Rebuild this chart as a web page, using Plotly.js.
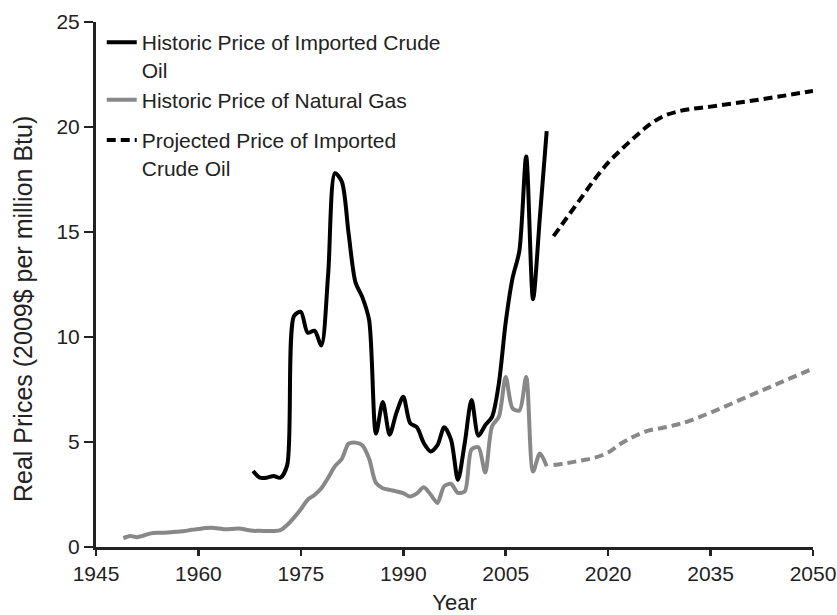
<!DOCTYPE html>
<html>
<head>
<meta charset="utf-8">
<script src="https://cdn.plot.ly/plotly-3.0.1.min.js"></script>
<style>html,body{margin:0;padding:0;background:#fff;}#chart{width:837px;height:615px;}</style>
</head>
<body>
<div id="chart"></div>
<script>
// Historic imported crude oil price (2009$ per million Btu)
const oilYears = [1968,1969,1970,1971,1972,1973,1974,1975,1976,1977,1978,1979,1980,1981,1982,1983,1984,1985,1986,1987,1988,1989,1990,1991,1992,1993,1994,1995,1996,1997,1998,1999,2000,2001,2002,2003,2004,2005,2006,2007,2008,2009,2010,2011];
const oilPrice = [3.62,3.30,3.30,3.38,3.30,3.90,11.0,11.2,10.2,10.3,9.6,13.0,17.8,17.4,14.9,12.6,11.9,10.8,5.4,6.9,5.35,6.4,7.15,5.9,5.7,4.95,4.55,4.85,5.7,5.1,3.2,4.95,7.0,5.3,5.8,6.2,7.8,10.7,12.8,14.1,18.6,11.8,15.7,19.8];

// Historic natural gas price
const gasYears = [1949,1950,1951,1952,1953,1954,1955,1956,1957,1958,1959,1960,1961,1962,1963,1964,1965,1966,1967,1968,1969,1970,1971,1972,1973,1974,1975,1976,1977,1978,1979,1980,1981,1982,1983,1984,1985,1986,1987,1988,1989,1990,1991,1992,1993,1994,1995,1996,1997,1998,1999,2000,2001,2002,2003,2004,2005,2006,2007,2008,2009,2010,2011];
const gasPrice = [0.42,0.52,0.47,0.55,0.65,0.68,0.68,0.70,0.73,0.76,0.82,0.86,0.90,0.92,0.88,0.84,0.86,0.88,0.82,0.77,0.77,0.76,0.76,0.80,1.05,1.40,1.80,2.25,2.48,2.80,3.30,3.85,4.20,4.92,4.97,4.85,4.20,3.05,2.80,2.72,2.65,2.56,2.40,2.55,2.84,2.50,2.10,2.90,3.00,2.58,2.65,4.65,4.75,3.55,5.75,6.20,8.10,6.60,6.50,8.10,3.60,4.45,3.85];

// Projected prices
const projYears = [2012,2014,2016,2018,2020,2022,2024,2026,2028,2030,2032,2035,2040,2045,2050];
const projOil = [14.8,15.7,16.6,17.5,18.3,18.95,19.55,20.1,20.5,20.72,20.85,20.97,21.2,21.45,21.72];
const projGas = [3.9,4.0,4.12,4.25,4.5,4.95,5.3,5.55,5.68,5.82,6.02,6.4,7.1,7.8,8.5];

const legendNames = ["Historic Price of Imported Crude<br>Oil","Historic Price of Natural Gas","Projected Price of Imported<br>Crude Oil"];
const xTicks = [1945,1960,1975,1990,2005,2020,2035,2050];
const yTicks = [0,5,10,15,20,25];
const xTitle = "Year";
const yTitle = "Real Prices (2009$ per million Btu)";

const BLACK = "#000000", GRAY = "#888888";
const FAM = "Liberation Sans, Arial, sans-serif";

const traces = [
  {x: oilYears, y: oilPrice, name: legendNames[0], mode: "lines", legendgroup: "a",
   line: {color: BLACK, width: 4, shape: "spline", smoothing: 0.8}},
  {x: gasYears, y: gasPrice, name: legendNames[1], mode: "lines", legendgroup: "a",
   line: {color: GRAY, width: 4, shape: "spline", smoothing: 0.8}},
  {x: projYears, y: projOil, name: legendNames[2], mode: "lines", legendgroup: "b",
   line: {color: BLACK, width: 4, shape: "spline", dash: "9px,5px"}},
  {x: projYears, y: projGas, name: "Projected Price of Natural Gas", mode: "lines", showlegend: false,
   line: {color: GRAY, width: 4, shape: "spline", dash: "9px,5px"}}
];

const axisFont = {family: FAM, size: 21, color: "#222"};

const layout = {
  width: 837, height: 615,
  margin: {l: 96, r: 24, t: 22, b: 68},
  paper_bgcolor: "#fff", plot_bgcolor: "#fff",
  font: axisFont,
  showlegend: true,
  legend: {x: 0.008, y: 1.0, xanchor: "left", yanchor: "top", bgcolor: "rgba(0,0,0,0)",
           font: {family: FAM, size: 21, color: "#222"},
           valign: "top", traceorder: "grouped", tracegroupgap: 10},
  xaxis: {range: [1945, 2050], tickvals: xTicks, ticktext: xTicks.map(String),
          showgrid: false, zeroline: false, showline: true, linecolor: "#222", linewidth: 3,
          ticks: "outside", ticklen: 6, tickwidth: 2.5, tickcolor: "#222",
          tickfont: axisFont, title: {text: xTitle, font: {family: FAM, size: 22, color: "#222"}, standoff: 17}},
  yaxis: {range: [0, 25], tickvals: yTicks, ticktext: yTicks.map(String),
          showgrid: false, zeroline: false, showline: true, linecolor: "#222", linewidth: 3,
          ticks: "outside", ticklen: 9, tickwidth: 2.5, tickcolor: "#222",
          tickfont: axisFont},
  annotations: [{text: yTitle, textangle: -90, xref: "paper", yref: "paper",
                 x: (23 - 96) / 717, y: (547 - 309) / 525, xanchor: "center", yanchor: "middle",
                 showarrow: false, font: {family: FAM, size: 25, color: "#222"}}]
};

Plotly.newPlot("chart", traces, layout, {staticPlot: true, displayModeBar: false});
</script>
</body>
</html>
